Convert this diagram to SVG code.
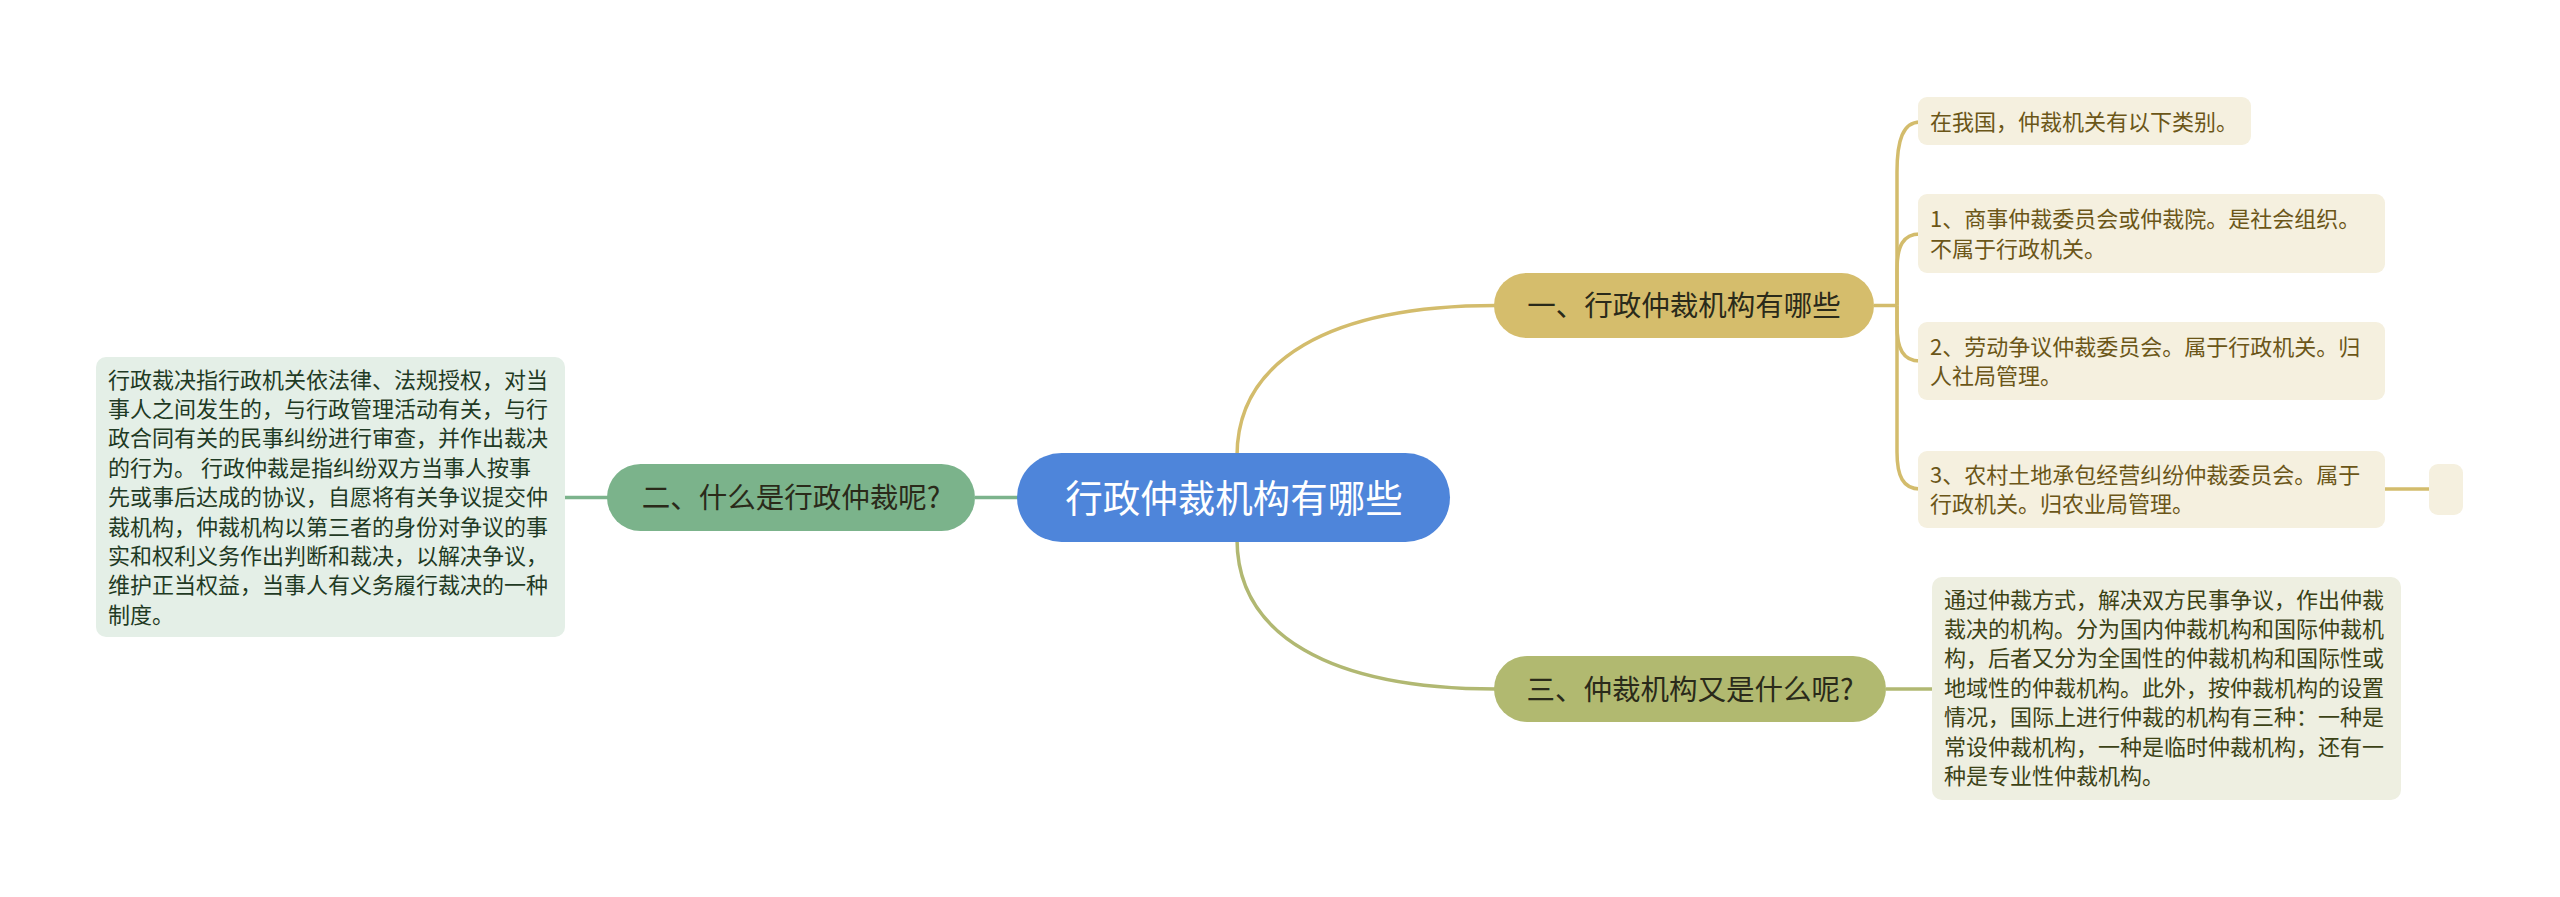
<svg xmlns="http://www.w3.org/2000/svg" width="2560" height="897" viewBox="0 0 2560 897">
<style>
text{font-family:"Noto Sans CJK SC","Noto Sans",sans-serif}
.conn{fill:none;stroke-width:3.5}
.gold{stroke:#d3bc6c}
.olive{stroke:#b1b872}
.green{stroke:#7cb38c}
.t1{font-size:28.5px;fill:#2a2a1a;text-anchor:middle}
.t2{font-size:22px}
</style>
<rect width="2560" height="897" fill="#ffffff"/>
<g id="connectors">
<path class="conn gold" d="M1237 456 C1237 360 1330 305.5 1496 305.5"/>
<path class="conn olive" d="M1237 539 C1237 635 1330 689 1496 689"/>
<path class="conn green" d="M1019 497.5 L975 497.5"/>
<path class="conn green" d="M609 497.5 L565 497.5"/>
<path class="conn gold" d="M1874 305.5 L1897 305.5"/>
<path class="conn gold" d="M1897 305.5 L1897 172 C1897 140 1903 122 1920 122"/>
<path class="conn gold" d="M1897 305.5 L1897 270 C1897 246 1903 234 1920 234"/>
<path class="conn gold" d="M1897 305.5 L1897 325 C1897 349 1903 361 1920 361"/>
<path class="conn gold" d="M1897 305.5 L1897 452 C1897 476 1903 489 1920 489"/>
<path class="conn gold" d="M2385 489 L2430 489"/>
<path class="conn olive" d="M1886 689 L1933 689"/>
</g>
<g id="root">
<rect x="1017" y="453" width="433" height="89" rx="44.5" fill="#4e85da"/>
<text x="1234" y="512" style="font-size:37.5px;fill:#ffffff;text-anchor:middle">行政仲裁机构有哪些</text>
</g>
<g id="n1">
<rect x="1494" y="273" width="380" height="65" rx="32.5" fill="#d5bd6c"/>
<text class="t1" x="1684" y="316">一、行政仲裁机构有哪些</text>
</g>
<g id="n2">
<rect x="607" y="464" width="368" height="67" rx="33.5" fill="#7bb38b"/>
<text class="t1" x="791" y="508">二、什么是行政仲裁呢?</text>
</g>
<g id="n3">
<rect x="1494" y="656" width="392" height="66" rx="33" fill="#b1b970"/>
<text class="t1" x="1690" y="700">三、仲裁机构又是什么呢?</text>
</g>
<g id="n2-detail">
<rect x="96" y="357" width="469" height="280" rx="10" fill="#e4efe7"/>
<text class="t2" x="108" fill="#1f3a24">
<tspan x="108" y="387.5">行政裁决指行政机关依法律、法规授权，对当</tspan>
<tspan x="108" y="416.9">事人之间发生的，与行政管理活动有关，与行</tspan>
<tspan x="108" y="446.3">政合同有关的民事纠纷进行审查，并作出裁决</tspan>
<tspan x="108" y="475.7">的行为。 行政仲裁是指纠纷双方当事人按事</tspan>
<tspan x="108" y="505.1">先或事后达成的协议，自愿将有关争议提交仲</tspan>
<tspan x="108" y="534.5">裁机构，仲裁机构以第三者的身份对争议的事</tspan>
<tspan x="108" y="563.9">实和权利义务作出判断和裁决，以解决争议，</tspan>
<tspan x="108" y="593.3">维护正当权益，当事人有义务履行裁决的一种</tspan>
<tspan x="108" y="622.7">制度。</tspan>
</text>
</g>
<g id="n1-c1">
<rect x="1918" y="97" width="333" height="48" rx="9" fill="#f5f0df"/>
<text class="t2" x="1930" y="130" fill="#6b5618">在我国，仲裁机关有以下类别。</text>
</g>
<g id="n1-c2">
<rect x="1918" y="194" width="467" height="79" rx="9" fill="#f5f0df"/>
<text class="t2" fill="#6b5618"><tspan x="1930" y="227">1、商事仲裁委员会或仲裁院。是社会组织。</tspan><tspan x="1930" y="256.5">不属于行政机关。</tspan></text>
</g>
<g id="n1-c3">
<rect x="1918" y="322" width="467" height="78" rx="9" fill="#f5f0df"/>
<text class="t2" fill="#6b5618"><tspan x="1930" y="354.5">2、劳动争议仲裁委员会。属于行政机关。归</tspan><tspan x="1930" y="384">人社局管理。</tspan></text>
</g>
<g id="n1-c4">
<rect x="1918" y="451" width="467" height="77" rx="9" fill="#f5f0df"/>
<text class="t2" fill="#6b5618"><tspan x="1930" y="482.5">3、农村土地承包经营纠纷仲裁委员会。属于</tspan><tspan x="1930" y="512">行政机关。归农业局管理。</tspan></text>
</g>
<g id="n1-c4-c1">
<rect x="2429" y="464" width="34" height="51" rx="9" fill="#f5f0df"/>
</g>
<g id="n3-detail">
<rect x="1932" y="577" width="469" height="223" rx="10" fill="#eeefe1"/>
<text class="t2" fill="#3c4216">
<tspan x="1944" y="607.5">通过仲裁方式，解决双方民事争议，作出仲裁</tspan>
<tspan x="1944" y="636.9">裁决的机构。分为国内仲裁机构和国际仲裁机</tspan>
<tspan x="1944" y="666.3">构，后者又分为全国性的仲裁机构和国际性或</tspan>
<tspan x="1944" y="695.7">地域性的仲裁机构。此外，按仲裁机构的设置</tspan>
<tspan x="1944" y="725.1">情况，国际上进行仲裁的机构有三种：一种是</tspan>
<tspan x="1944" y="754.5">常设仲裁机构，一种是临时仲裁机构，还有一</tspan>
<tspan x="1944" y="783.9">种是专业性仲裁机构。</tspan>
</text>
</g>
</svg>
